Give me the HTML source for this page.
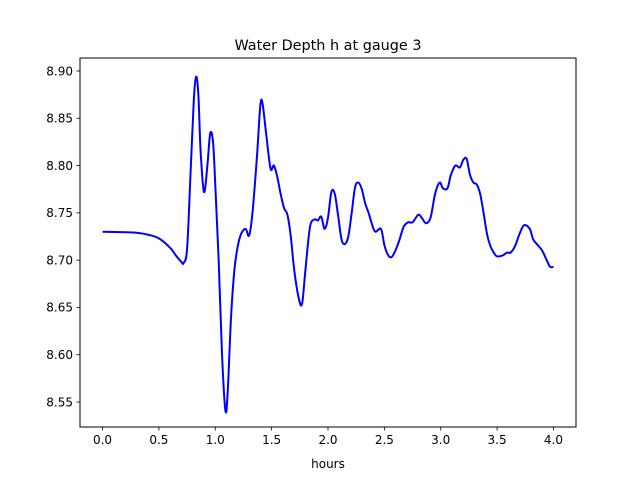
<!DOCTYPE html>
<html><head><meta charset="utf-8"><style>
body{margin:0;background:#fff}
svg text{font-family:"DejaVu Sans","Liberation Sans",sans-serif;}
</style></head><body>
<svg id="chart" width="640" height="480" xmlns="http://www.w3.org/2000/svg">
<rect width="640" height="480" fill="#fff"/>
<text x="328" y="50" text-anchor="middle" font-size="14.4">Water Depth h at gauge 3</text>
<g id="plot"></g>
<rect x="80" y="58" width="496" height="369" fill="none" stroke="#000" stroke-width="1"/>
<text x="328" y="468" text-anchor="middle" font-size="12">hours</text>
</svg>
<script>
const times=[0,0.2,0.3,0.4,0.5,0.6,0.65,0.7,0.72,0.75,0.78,0.81,0.83,0.85,0.87,0.9,0.93,0.955,0.98,1.0,1.03,1.06,1.09,1.11,1.14,1.17,1.2,1.23,1.27,1.3,1.33,1.37,1.4,1.42,1.45,1.49,1.52,1.55,1.58,1.61,1.64,1.67,1.7,1.74,1.77,1.8,1.84,1.88,1.91,1.94,1.97,2.0,2.03,2.06,2.09,2.12,2.15,2.18,2.21,2.24,2.27,2.3,2.33,2.36,2.39,2.42,2.47,2.5,2.53,2.56,2.59,2.63,2.67,2.71,2.75,2.8,2.83,2.87,2.91,2.95,2.99,3.02,3.06,3.09,3.13,3.17,3.2,3.23,3.26,3.29,3.32,3.35,3.38,3.41,3.44,3.47,3.5,3.55,3.59,3.62,3.66,3.7,3.74,3.79,3.82,3.86,3.9,3.94,3.97,4.0];
const depths=[8.730,8.7295,8.729,8.727,8.723,8.713,8.705,8.698,8.697,8.712,8.79,8.87,8.894,8.875,8.815,8.772,8.80,8.834,8.825,8.78,8.70,8.60,8.541,8.56,8.64,8.69,8.715,8.728,8.733,8.726,8.75,8.81,8.864,8.865,8.835,8.797,8.80,8.788,8.77,8.755,8.748,8.725,8.69,8.66,8.654,8.69,8.735,8.743,8.742,8.746,8.733,8.745,8.772,8.77,8.747,8.722,8.717,8.725,8.75,8.777,8.782,8.775,8.76,8.75,8.738,8.73,8.733,8.716,8.706,8.703,8.708,8.72,8.735,8.74,8.74,8.748,8.745,8.739,8.745,8.77,8.782,8.776,8.776,8.79,8.80,8.798,8.806,8.807,8.79,8.782,8.78,8.77,8.75,8.728,8.715,8.708,8.704,8.705,8.708,8.708,8.715,8.728,8.737,8.733,8.722,8.716,8.71,8.70,8.693,8.693];
const xTicks=[0,0.5,1,1.5,2,2.5,3,3.5,4];
const xTickLabels=["0.0","0.5","1.0","1.5","2.0","2.5","3.0","3.5","4.0"];
const yTicks=[8.55,8.60,8.65,8.70,8.75,8.80,8.85,8.90];
const yTickLabels=["8.55","8.60","8.65","8.70","8.75","8.80","8.85","8.90"];

const L=80,R=576,T=58,B=427;
const xMin=-0.2,xMax=4.2,yMin=8.5236,yMax=8.9137;
const xs=v=>L+(v-xMin)/(xMax-xMin)*(R-L);
const ys=v=>B-(v-yMin)/(yMax-yMin)*(B-T);
const NS="http://www.w3.org/2000/svg";
const g=document.getElementById('plot');
function mk(tag,attrs){const e=document.createElementNS(NS,tag);for(const k in attrs)e.setAttribute(k,attrs[k]);g.appendChild(e);return e;}
xTicks.forEach((t,i)=>{
  const x=xs(t);
  const tk=mk('line',{x1:x,x2:x,y1:B,y2:B+3.5,stroke:'#000','stroke-width':0.8});
  
  
  const tx=mk('text',{x:x,y:B+17,'text-anchor':'middle','font-size':12});
  tx.textContent=xTickLabels[i];
  
  
});
yTicks.forEach((t,i)=>{
  const y=ys(t);
  const tk=mk('line',{x1:L-3.5,x2:L,y1:y,y2:y,stroke:'#000','stroke-width':0.8});
  
  
  const tx=mk('text',{x:L-7,y:y+4.3,'text-anchor':'end','font-size':12});
  tx.textContent=yTickLabels[i];
  
  
});
const pts=times.map((t,i)=>[xs(t),ys(depths[i])]);
let d='M'+pts[0][0]+','+pts[0][1];
for(let i=0;i<pts.length-1;i++){
  const p0=pts[Math.max(0,i-1)],p1=pts[i],p2=pts[i+1],p3=pts[Math.min(pts.length-1,i+2)];
  const c1x=p1[0]+(p2[0]-p0[0])/6,c1y=p1[1]+(p2[1]-p0[1])/6;
  const c2x=p2[0]-(p3[0]-p1[0])/6,c2y=p2[1]-(p3[1]-p1[1])/6;
  d+=` C${c1x},${c1y} ${c2x},${c2y} ${p2[0]},${p2[1]}`;
}
const line=mk('path',{d:d,fill:'none',stroke:'#0000ff','stroke-width':2,'stroke-linejoin':'round'});


</script>
</body></html>
